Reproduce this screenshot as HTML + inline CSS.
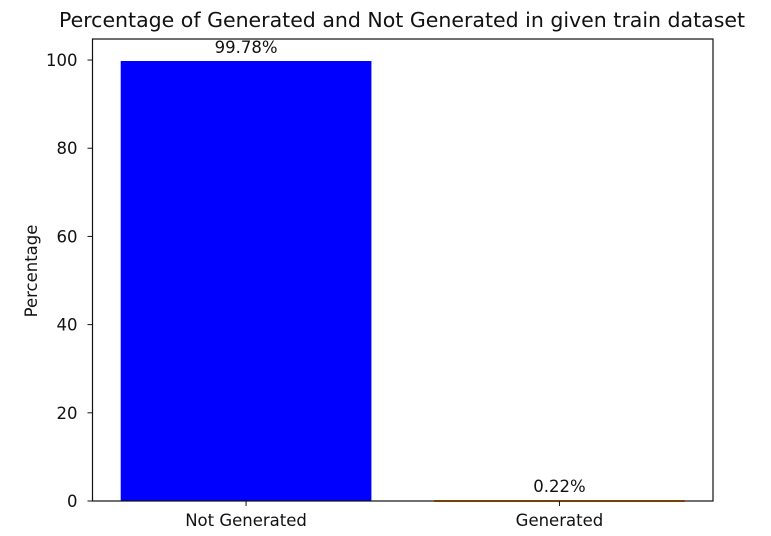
<!DOCTYPE html>
<html><head><meta charset="utf-8"><style>
body{margin:0;background:#fff;font-family:"DejaVu Sans","Liberation Sans",sans-serif;}
</style></head><body>
<svg id="chart" width="771" height="532" xmlns="http://www.w3.org/2000/svg" font-family="DejaVu Sans, Liberation Sans, sans-serif">
<rect width="771" height="532" fill="#fff"/>
<text x="402" y="27" font-size="20.5" text-anchor="middle" fill="#111">Percentage of Generated and Not Generated in given train dataset</text>
<text transform="translate(37,271) rotate(-90)" font-size="16.5" text-anchor="middle" fill="#111">Percentage</text>
<g id="marks"></g>
<rect x="92.5" y="39" width="620.5" height="462" fill="none" stroke="#111" stroke-width="1.2"/>
</svg>
<script>
const categories = ["Not Generated", "Generated"];
const values = [99.78, 0.22];
const valueLabels = ["99.78%", "0.22%"];
const colors = ["#0000ff", "#ff8c00"];
const yTicks = [0, 20, 40, 60, 80, 100];

const L=92.5,R=713,T=39,B=501;
const yMax=Math.max(...values)*1.05;
const xMin=-0.49,xMax=(categories.length-1)+0.49;
const x=v=>L+(v-xMin)/(xMax-xMin)*(R-L);
const y=v=>B-v/yMax*(B-T);
const NS="http://www.w3.org/2000/svg";
const g=document.getElementById('marks');
function mk(t,a){const e=document.createElementNS(NS,t);for(const k in a)e.setAttribute(k,a[k]);g.appendChild(e);return e;}

values.forEach((v,i)=>{
  const r=mk('rect',{x:x(i-0.4),y:y(v),width:x(i+0.4)-x(i-0.4),height:Math.max(B-y(v),2),fill:colors[i]});
  
  
  const t=mk('text',{x:x(i),y:y(v)-8,'font-size':16.5,'text-anchor':'middle',fill:'#111'});
  t.textContent=valueLabels[i];
  
  
  const tk=mk('line',{x1:x(i),x2:x(i),y1:B,y2:B+5,stroke:'#111'});
  
  
  const tl=mk('text',{x:x(i),y:B+25,'font-size':16.5,'text-anchor':'middle',fill:'#111'});
  tl.textContent=categories[i];
  
  
});
yTicks.forEach(v=>{
  const tk=mk('line',{x1:L-5,x2:L,y1:y(v),y2:y(v),stroke:'#111'});
  
  
  const tl=mk('text',{x:L-15,y:y(v)+6,'font-size':16.5,'text-anchor':'end',fill:'#111'});
  tl.textContent=v;
  
  
});
</script>
</body></html>
